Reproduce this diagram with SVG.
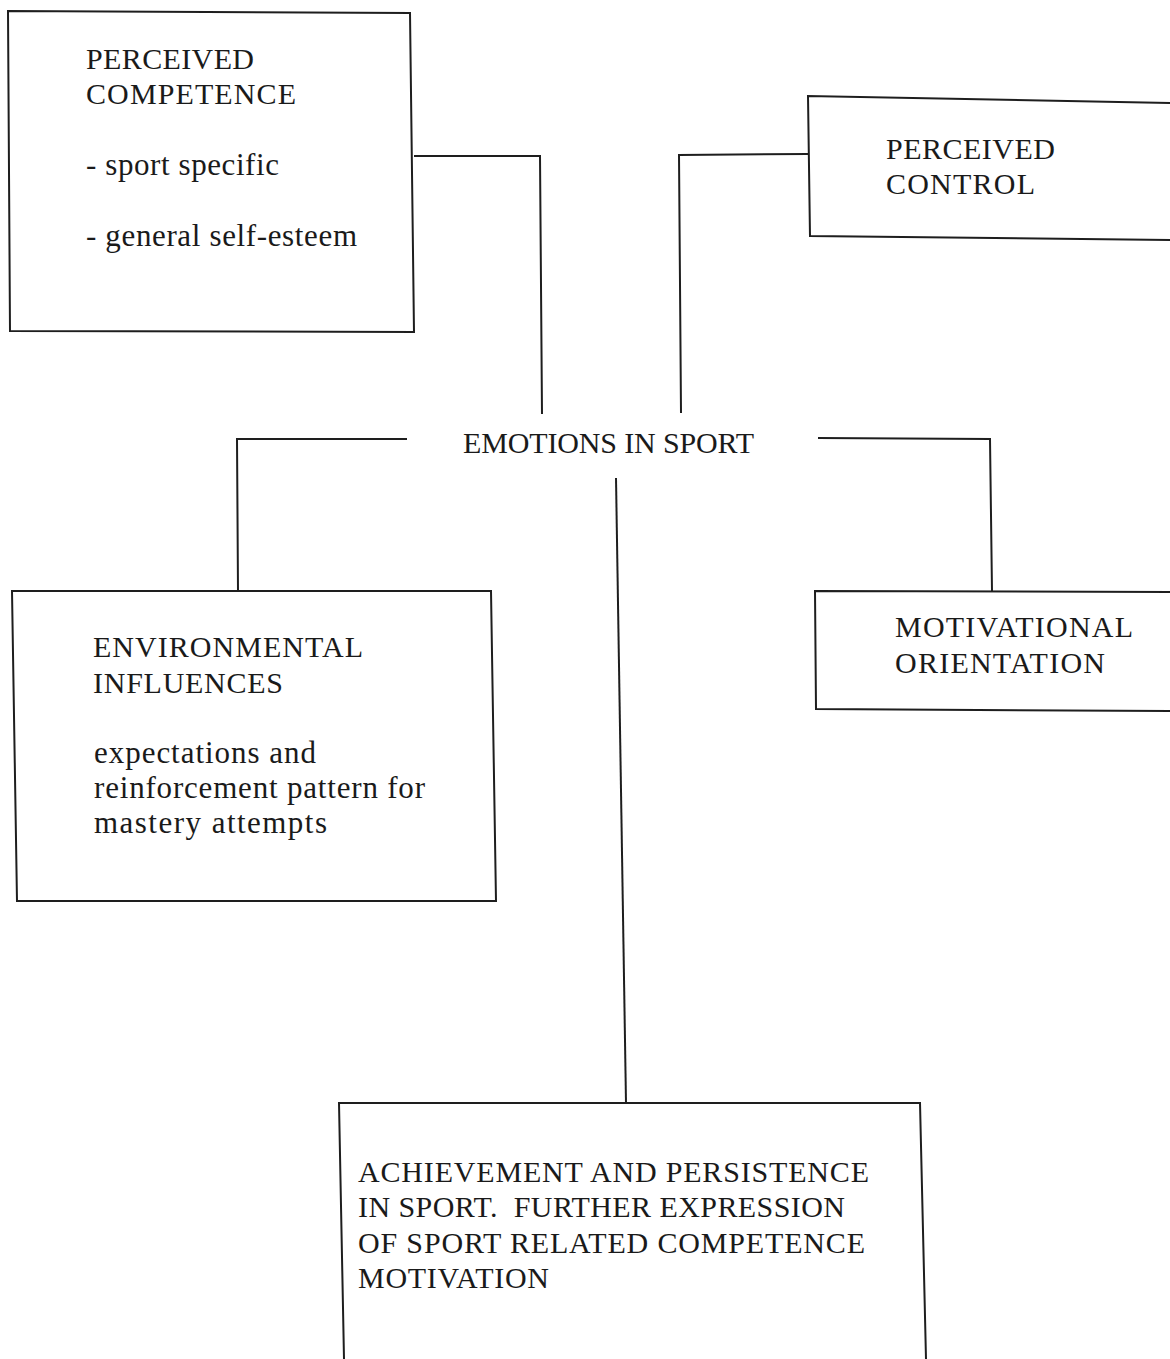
<svg xmlns="http://www.w3.org/2000/svg" width="1170" height="1359" viewBox="0 0 1170 1359">
  <style>
    .box { fill: none; stroke: #1e1e1e; stroke-width: 2; stroke-linejoin: miter; }
    .link { fill: none; stroke: #1e1e1e; stroke-width: 2; }
    .lbl { font-family: "Liberation Serif", "Times New Roman", serif; font-size: 30px; fill: #1a1a1a; }
    .low { font-size: 31px; }
  </style>
  <rect width="1170" height="1359" fill="#ffffff"/>

  <!-- connectors -->
  <g id="connectors">
    <polyline class="link" points="414,156 540,156 542,414"/>
    <polyline class="link" points="808,154 679,155 681,413"/>
    <polyline class="link" points="407,439 237,439 238,591"/>
    <polyline class="link" points="818,438 990,439 992,591"/>
    <line class="link" x1="616" y1="478" x2="626" y2="1103"/>
  </g>

  <!-- perceived competence -->
  <g id="node-competence">
    <polygon class="box" points="8,11 410,13 414,332 10,331"/>
    <text class="lbl" x="86" y="69" textLength="168">PERCEIVED</text>
    <text class="lbl" x="86" y="104" textLength="210">COMPETENCE</text>
    <text class="lbl low" x="86" y="175" textLength="193">- sport specific</text>
    <text class="lbl low" x="86" y="246" textLength="271">- general self-esteem</text>
  </g>

  <!-- perceived control (right edge runs off the page) -->
  <g id="node-control">
    <path class="box" d="M1170,103 L808,96 L810,236 L1170,240"/>
    <text class="lbl" x="886" y="159" textLength="169">PERCEIVED</text>
    <text class="lbl" x="886" y="194" textLength="149">CONTROL</text>
  </g>

  <!-- centre label -->
  <g id="node-emotions">
    <text class="lbl" x="463" y="453" textLength="291">EMOTIONS IN SPORT</text>
  </g>

  <!-- environmental influences -->
  <g id="node-environment">
    <polygon class="box" points="12,591 491,591 496,901 17,901"/>
    <text class="lbl" x="93" y="657" textLength="270">ENVIRONMENTAL</text>
    <text class="lbl" x="93" y="693" textLength="190">INFLUENCES</text>
    <text class="lbl low" x="94" y="763" textLength="222">expectations and</text>
    <text class="lbl low" x="94" y="798" textLength="331">reinforcement pattern for</text>
    <text class="lbl low" x="94" y="833" textLength="233">mastery attempts</text>
  </g>

  <!-- motivational orientation (right edge runs off the page) -->
  <g id="node-motivation">
    <path class="box" d="M1170,592 L815,591 L816,709 L1170,711"/>
    <text class="lbl" x="895" y="637" textLength="238">MOTIVATIONAL</text>
    <text class="lbl" x="895" y="673" textLength="210">ORIENTATION</text>
  </g>

  <!-- achievement and persistence (bottom edge runs off the page) -->
  <g id="node-achievement">
    <path class="box" d="M344,1359 L339,1103 L920,1103 L926,1359"/>
    <text class="lbl" x="358" y="1182" textLength="511">ACHIEVEMENT AND PERSISTENCE</text>
    <text class="lbl" x="358" y="1217" xml:space="preserve" textLength="487">IN SPORT.  FURTHER EXPRESSION</text>
    <text class="lbl" x="358" y="1253" textLength="507">OF SPORT RELATED COMPETENCE</text>
    <text class="lbl" x="358" y="1288" textLength="191">MOTIVATION</text>
  </g>
</svg>
